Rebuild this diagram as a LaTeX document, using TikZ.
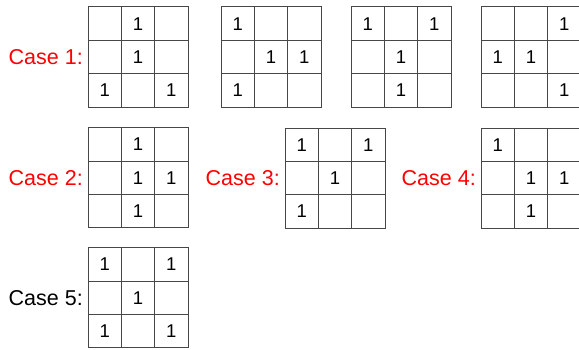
\documentclass[tikz,border=0pt]{standalone}
\usepackage{fontspec}
\setmainfont{Liberation Sans}
\usetikzlibrary{positioning,calc}

\begin{document}
\begin{tikzpicture}[
  x=1pt, y=1pt,
  node distance=5pt,
  gridbox/.style={draw=black!72, line width=1pt, minimum size=100pt,
                  inner sep=0pt, outer sep=0pt},
  cellline/.style={draw=black!72, line width=1pt},
  one/.style={font=\fontsize{18.5}{18}\selectfont, inner sep=0pt},
  caselabel/.style={font=\fontsize{21.5}{22}\selectfont, inner sep=0pt},
  redlabel/.style={caselabel, text=red},
]
\useasboundingbox (0,0) rectangle (579,349);

% the 3x3 grids
\node[gridbox] (g1a) at (138,292) {};
\node[gridbox] (g1b) at (271,292) {};
\node[gridbox] (g1c) at (401,292) {};
\node[gridbox] (g1d) at (531,292) {};
\node[gridbox] (g2) at (138,171.3) {};
\node[gridbox] (g3) at (335,170.7) {};
\node[gridbox] (g4) at (531,170.7) {};
\node[gridbox] (g5) at (138,51.2) {};

\foreach \g in {g1a,g1b,g1c,g1d,g2,g3,g4,g5} {
  \foreach \k in {1,2} {
    \draw[cellline] ($(\g.north west)!\k/3!(\g.north east)$) --
                    ($(\g.south west)!\k/3!(\g.south east)$);
    \draw[cellline] ($(\g.north west)!\k/3!(\g.south west)$) --
                    ($(\g.north east)!\k/3!(\g.south east)$);
  }
}

% the ones, as grid/row/column
\foreach \g/\r/\c in {g1a/1/2, g1a/2/2, g1a/3/1, g1a/3/3,
                      g1b/1/1, g1b/2/2, g1b/2/3, g1b/3/1,
                      g1c/1/1, g1c/1/3, g1c/2/2, g1c/3/2,
                      g1d/1/3, g1d/2/1, g1d/2/2, g1d/3/3,
                      g2/1/2, g2/2/2, g2/2/3, g2/3/2,
                      g3/1/1, g3/1/3, g3/2/2, g3/3/1,
                      g4/1/1, g4/2/2, g4/2/3, g4/3/2,
                      g5/1/1, g5/1/3, g5/2/2, g5/3/1, g5/3/3} {
  \node[one] (\g-\r\c) at ($(\g.center)+(\c*33.333-66.667,66.667-\r*33.333)$) {1};
}

% case labels
\node[redlabel, left=of g1a] (case1) {Case 1:};
\node[redlabel, left=of g2] (case2) {Case 2:};
\node[redlabel, left=of g3] (case3) {Case 3:};
\node[redlabel, left=of g4] (case4) {Case 4:};
\node[caselabel, left=of g5] (case5) {Case 5:};
\end{tikzpicture}
\end{document}
